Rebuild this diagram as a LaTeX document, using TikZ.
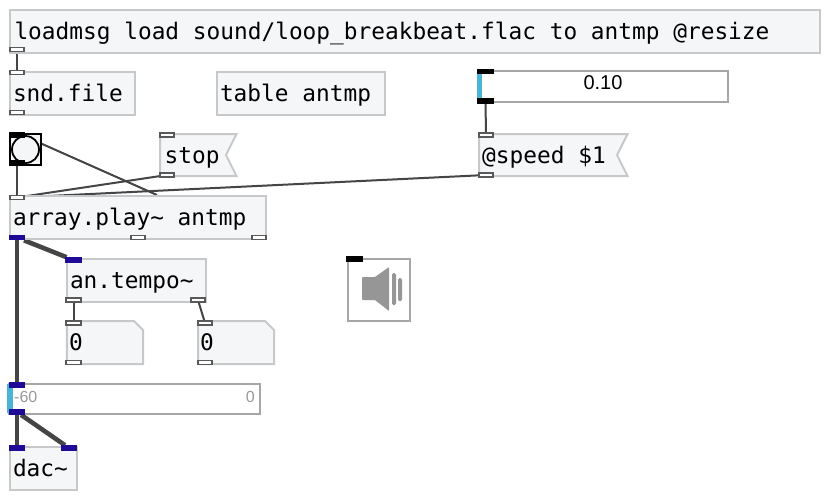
\documentclass[tikz,border=0pt]{standalone}
\usepackage{fontspec}
\setmainfont{Liberation Sans}
\setmonofont{DejaVu Sans Mono}
\usetikzlibrary{backgrounds}
\pgfdeclarelayer{wires}
\pgfsetlayers{background,wires,main}
\definecolor{boxfill}{HTML}{F5F6F8}
\definecolor{boxline}{HTML}{C6C8CA}
\definecolor{slideline}{HTML}{A6A6A6}
\definecolor{wirecol}{HTML}{454545}
\definecolor{sigblue}{HTML}{1E0A96}
\definecolor{sliderblue}{HTML}{4AB4D6}
\definecolor{spk}{HTML}{969696}
\newcommand{\objfont}{\ttfamily\fontsize{22.8}{24}\selectfont}
\tikzset{
  objbox/.style={draw=boxline,fill=boxfill,line width=2pt},
  obj/.style={objbox,anchor=north west,inner xsep=0pt,inner ysep=0pt,minimum height=43pt,
    font=\objfont,align=flush left,text height=17pt,text depth=1pt},
  msgtext/.style={anchor=north west,inner xsep=0pt,inner ysep=0pt,minimum height=43pt,
    font=\objfont,align=flush left,text height=17pt,text depth=1pt},
  slidebox/.style={draw=slideline,fill=white,line width=2pt,anchor=north west,inner sep=0pt},
  slidetext/.style={font=\fontsize{16}{18}\selectfont,text=black!40,inner sep=0pt},
  portbase/.style={rectangle,inner sep=0pt,minimum width=14.5pt,minimum height=4pt,line width=1.6pt},
  portg/.style={portbase,draw=black!65,fill=white},
  portb/.style={portbase,draw=sigblue,fill=sigblue},
  portk/.style={portbase,draw=black,fill=black},
  wire/.style={draw=wirecol,line width=2pt},
  thick wire/.style={draw=wirecol,line width=4.6pt},
}
\begin{document}
\begin{tikzpicture}[x=1pt,y=-1pt]
\useasboundingbox (0,0) rectangle (824,496);
\begin{scope}[on background layer]
  \fill[white] (0,0) rectangle (824,496);
\end{scope}

% objects
\node[obj,minimum width=810pt,text width=805pt] (loadmsg) at (9,9) {\hspace*{2pt}loadmsg load sound/loop\_breakbeat.flac to antmp @resize};
\node[obj,minimum width=125pt,text width=119pt] (sndfile) at (9,71) {snd.file};
\node[obj,minimum width=168pt,text width=162pt] (table) at (216,71) {table antmp};
\node[obj,minimum width=256pt,text width=250pt] (play) at (9,195) {array.play\textasciitilde{} antmp};
\node[obj,minimum width=139pt,text width=133pt] (tempo) at (66,258) {an.tempo\textasciitilde};
\node[obj,minimum width=67pt,text width=61pt] (dac) at (9,446) {dac\textasciitilde};

% message boxes
\draw[objbox] (160,134) -- (236.5,134) -- (226,155) -- (236.5,176) -- (160,176) -- cycle;
\node[msgtext,minimum width=70pt,text width=70pt] (stop) at (164.5,133.5) {stop};
\draw[objbox] (479,134) -- (627.5,134) -- (617,155) -- (627.5,176) -- (479,176) -- cycle;
\node[msgtext,minimum width=130pt,text width=130pt] (speed) at (482,133.5) {@speed \$1};

% number boxes
\draw[objbox] (66.8,321) -- (134,321) -- (143,330) -- (143,364) -- (66.8,364) -- cycle;
\node[msgtext,minimum width=40pt,text width=40pt] (numa) at (69,321) {0};
\draw[objbox] (198,321) -- (265,321) -- (274,330) -- (274,364) -- (198,364) -- cycle;
\node[msgtext,minimum width=40pt,text width=40pt] (numb) at (200,321) {0};

% bang
\node[draw=black,fill=boxfill,line width=2pt,minimum size=31pt,inner sep=0pt,anchor=north west] (bang) at (9,133) {};
\draw[black,line width=1.8pt,fill=boxfill] (bang.center) circle (13.5);

% sliders
\node[slidebox,minimum width=250pt,minimum height=31pt] (speedslider) at (477,70) {};
\fill[sliderblue] (477,71) rectangle (481.5,101);
\node[font=\fontsize{20}{22}\selectfont,inner sep=0pt] (speedval) at (603,83) {0.10};
\node[slidebox,minimum width=251pt,minimum height=30pt] (gain) at (8,383) {};
\fill[sliderblue] (7,384) rectangle (12.5,413);
\node[slidetext,anchor=west] (gainlow) at (14,397) {-60};
\node[slidetext,anchor=east] (gainhigh) at (255,397) {0};

% speaker
\node[slidebox,minimum size=62pt] (ezdac) at (347,258) {};
\fill[spk,rounded corners=0.8pt] (362,277) -- (375,277) -- (389,267) -- (389,311) -- (375,300) -- (362,300) -- cycle;
\fill[spk,rounded corners=1.5pt] (392,273) rectangle (396,305);
\fill[spk,rounded corners=1.5pt] (398,278) rectangle (402,301);

% ports
\node[portg] (loadmsgout) at (17,49.5) {};
\node[portg] (sndin) at (17,72.5) {};
\node[portg] (sndout) at (17,112.5) {};
\node[portk] (bangin) at (17,135) {};
\node[portk] (bangout) at (17,163) {};
\node[portg] (stopin) at (167,135) {};
\node[portg] (stopout) at (167,175) {};
\node[portk] (sliderin) at (485.5,71.5) {};
\node[portk] (sliderout) at (485.5,101) {};
\node[portg] (speedin) at (486,135) {};
\node[portg] (speedout) at (486,175) {};
\node[portg] (playin) at (17,197.5) {};
\node[portb] (playoutl) at (17,237.5) {};
\node[portg] (playoutm) at (138,237.5) {};
\node[portg] (playoutr) at (259,237.5) {};
\node[portb] (tempoin) at (73.5,260) {};
\node[portg] (tempooutl) at (73.5,300) {};
\node[portg] (tempooutr) at (198,300) {};
\node[portg] (numain) at (73.5,323) {};
\node[portg] (numaout) at (73.5,362.5) {};
\node[portg] (numbin) at (205,323) {};
\node[portg] (numbout) at (205,362.5) {};
\node[portb] (gainin) at (17,385) {};
\node[portb] (gainout) at (17,412) {};
\node[portb] (dacinl) at (17,448) {};
\node[portb] (dacinr) at (69,448) {};
\node[portk] (ezin) at (354.5,259) {};

\coordinate (bangside) at (40,143);
\coordinate (playtop) at (157,195);

% connectors
\begin{pgfonlayer}{wires}
\draw[wire] (loadmsgout) -- (sndin);
\draw[wire] (bangout) -- (playin);
\draw[wire] (bangside) -- (playtop);
\draw[wire] (stopout) -- (playin);
\draw[wire] (speedout) -- (playin);
\draw[wire] (sliderout) -- (speedin);
\draw[wire] (tempooutl) -- (numain);
\draw[wire] (tempooutr) -- (numbin);
\draw[thick wire] (playoutl) -- (tempoin);
\draw[thick wire] (playoutl) -- (gainin);
\draw[thick wire] (gainout) -- (dacinl);
\draw[thick wire] (gainout) -- (dacinr);
\end{pgfonlayer}
\end{tikzpicture}
\end{document}
